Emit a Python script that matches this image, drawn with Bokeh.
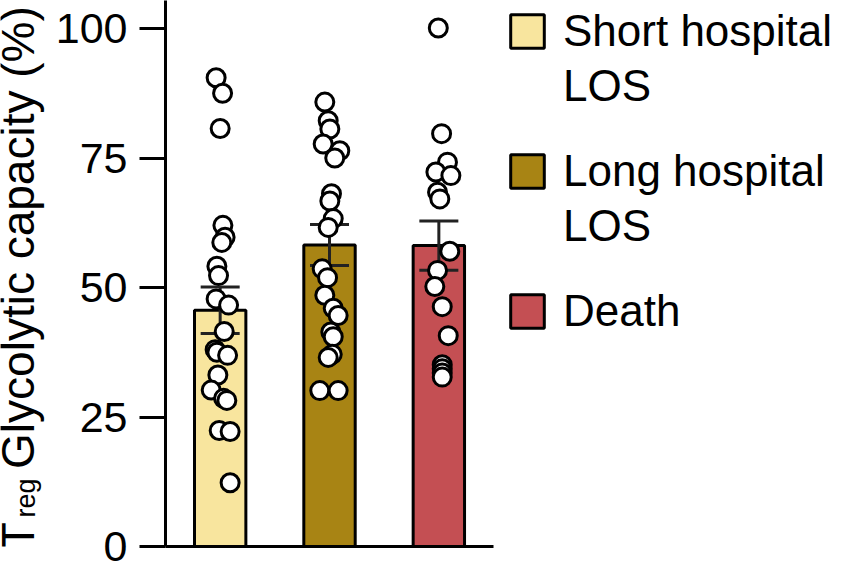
import math
from bokeh.plotting import figure
from bokeh.layouts import row
from bokeh.models import (Range1d, FixedTicker, Whisker, TeeHead, ColumnDataSource,
                          Legend, LegendItem)
from bokeh.core.properties import value
from bokeh.embed import file_html
from bokeh.resources import INLINE

# ---------------- data ----------------
groups = ["Short hospital LOS", "Long hospital LOS", "Death"]
legend_lines = [["Short hospital", "LOS"], ["Long hospital", "LOS"], ["Death"]]
colors = ["#F8E59E", "#A88414", "#C44F53"]
means = [45.6, 58.2, 58.1]
sems = [4.5, 3.95, 4.75]

short_vals = [90.5, 87.5, 80.7, 62.0, 59.7, 58.7, 54.1, 52.3, 47.8, 46.6, 41.5,
              38.0, 37.5, 36.9, 33.1, 30.2, 28.6, 28.2, 22.4, 22.2, 12.3]
short_jit = [-0.037, 0.022, 0.0, 0.025, 0.045, 0.015, -0.03, -0.015, -0.037, 0.077, 0.037,
             -0.046, -0.03, 0.068, -0.021, -0.082, 0.031, 0.061, -0.009, 0.091, 0.091]
long_vals = [85.8, 82.2, 80.6, 77.7, 76.4, 75.0, 68.1, 66.7, 63.3, 61.6, 53.6,
             51.9, 48.5, 46.0, 44.6, 41.4, 40.5, 37.1, 36.5, 30.1, 30.1]
long_jit = [-0.043, -0.012, 0.003, -0.058, 0.094, 0.048, 0.018, 0.003, 0.034, -0.012, -0.067,
            -0.018, -0.043, 0.034, 0.079, 0.012, 0.034, 0.025, -0.012, -0.089, 0.079]
death_vals = [100.1, 79.7, 74.2, 72.3, 71.6, 68.4, 67.1, 57.0, 53.3, 50.2, 46.3,
              40.7, 35.1, 34.3, 33.5, 32.7]
death_jit = [-0.005, 0.025, 0.079, -0.027, 0.11, -0.012, 0.009, 0.1, -0.012, -0.037, 0.031,
             0.086, 0.031, 0.031, 0.031, 0.031]
y_ticks = [0, 25, 50, 75, 100]
title_main = "T"
title_sub = "reg"
title_rest = "Glycolytic capacity (%)"

FONT = "Liberation Sans"
W, H = 845, 563
LEFT_W = 52
AXIS_BORDER = 112

# ---------------- left strip holding the rotated y title ----------------
t = figure(width=LEFT_W, height=H, output_backend="svg", toolbar_location=None,
           x_range=Range1d(0, LEFT_W), y_range=Range1d(0, H),
           x_axis_location=None, y_axis_location=None, min_border=0)
t.outline_line_color = None
t.xgrid.visible = False
t.ygrid.visible = False
t.text(x=[17], y=[25], text=[title_main], angle=math.pi / 2,
       text_font=value(FONT), text_font_size="46px", text_baseline="alphabetic",
       text_align="right", text_color="black")
t.text(x=[17], y=[80], text=[title_rest], angle=math.pi / 2,
       text_font=value(FONT), text_font_size="46px", text_baseline="alphabetic",
       text_align="left", text_color="black")
t.text(x=[25], y=[30], text=[title_sub], angle=math.pi / 2,
       text_font=value(FONT), text_font_size="27px", text_baseline="alphabetic",
       text_align="left", text_color="black")

# ---------------- main plot ----------------
frame_w = W - LEFT_W - AXIS_BORDER
frame_h = H - 17
p = figure(width=W - LEFT_W, height=H, output_backend="svg", toolbar_location=None,
           x_range=Range1d(-0.5, -0.5 + frame_w / 109.5), y_range=Range1d(0, frame_h / 5.18),
           min_border_left=AXIS_BORDER, min_border_right=0, min_border_top=0,
           min_border_bottom=17)
p.outline_line_color = None
p.xgrid.visible = False
p.ygrid.visible = False

xs = list(range(len(groups)))
bar_src = ColumnDataSource(dict(x=xs, top=means, color=colors,
                                upper=[m + s for m, s in zip(means, sems)],
                                lower=[m - s for m, s in zip(means, sems)]))
bars = p.vbar(x="x", top="top", width=0.47, bottom=0, source=bar_src,
              fill_color="color", line_color="black", line_width=3, level="underlay")

wh = Whisker(base="x", upper="upper", lower="lower", source=bar_src,
             line_color="#222222", line_width=3, level="glyph",
             upper_head=TeeHead(size=39, line_width=3, line_color="#222222"),
             lower_head=TeeHead(size=39, line_width=3, line_color="#222222"))
p.add_layout(wh)

px, py = [], []
for g, (vals, jit) in enumerate([(short_vals, short_jit), (long_vals, long_jit),
                                 (death_vals, death_jit)]):
    px += [g + j for j in jit]
    py += vals
p.scatter(px, py, size=18, fill_color="white", line_color="black", line_width=3,
          level="annotation")

p.yaxis.ticker = FixedTicker(ticks=y_ticks)
p.yaxis.axis_line_width = 3
p.yaxis.major_tick_line_width = 3
p.yaxis.major_tick_out = 26
p.yaxis.major_tick_in = 0
p.yaxis.minor_tick_line_color = None
p.yaxis.major_label_standoff = 12
p.yaxis.major_label_text_font = FONT
p.yaxis.major_label_text_font_size = "43px"
p.yaxis.major_label_text_color = "black"

p.xaxis.ticker = FixedTicker(ticks=[])
p.xaxis.bounds = (-0.5, 2.5)
p.xaxis.axis_line_width = 3
p.xaxis.major_tick_line_color = None
p.xaxis.major_tick_out = 0
p.xaxis.minor_tick_line_color = None
p.xaxis.major_label_text_font_size = "0px"
p.xaxis.major_label_standoff = 0

# legend: one single-line legend per text line; continuation lines get a hidden swatch
blank = p.scatter(x=[], y=[], fill_alpha=0, line_alpha=0)
line_bottoms = [[490, 435], [350, 295], [210]]
for i, lines in enumerate(legend_lines):
    for j, txt in enumerate(lines):
        rend = bars if j == 0 else blank
        lg = Legend(items=[LegendItem(label=txt, renderers=[rend], index=i if j == 0 else None)],
                    location=(341, line_bottoms[i][j]), border_line_color=None,
                    background_fill_alpha=0, padding=0, margin=0, spacing=0,
                    glyph_width=42, glyph_height=42, label_standoff=15, label_height=42,
                    label_text_font=FONT, label_text_font_size="44px",
                    label_text_color="black")
        p.add_layout(lg)

layout = row(t, p, spacing=0)
open("out.html", "w").write(file_html(layout, INLINE))
